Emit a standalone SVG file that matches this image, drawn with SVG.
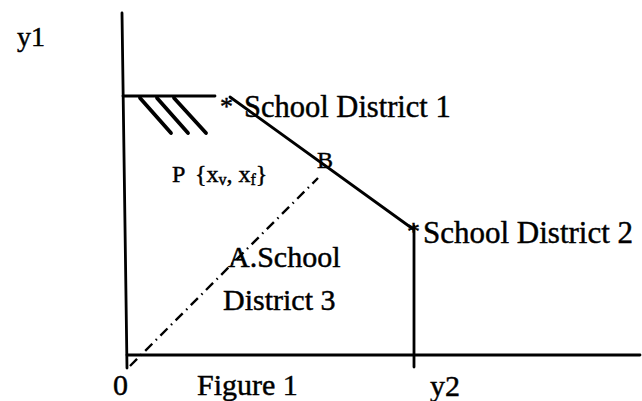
<svg xmlns="http://www.w3.org/2000/svg" width="642" height="401" viewBox="0 0 642 401">
<style>
.ln{stroke:#000;stroke-width:2.8;fill:none;stroke-linecap:round}
.h{stroke:#000;stroke-width:3.8;fill:none;stroke-linecap:round}
.dd{stroke:#000;stroke-width:2.4;fill:none;stroke-dasharray:10 5 1.5 5}
.t{font-family:"Liberation Serif","Times New Roman",serif;fill:#000;stroke:#000;stroke-width:0.45}
</style>
<rect width="642" height="401" fill="#fff"/>
<g id="connectors">
<line class="ln" x1="122" y1="13" x2="127" y2="368"/>
<line class="ln" x1="127" y1="355" x2="640" y2="355"/>
<line class="ln" x1="123" y1="96" x2="215" y2="96"/>
<line class="h" x1="140" y1="98" x2="171" y2="133"/>
<line class="h" x1="157" y1="98" x2="188" y2="133"/>
<line class="h" x1="174" y1="98" x2="206" y2="133"/>
<line class="ln" x1="230" y1="97" x2="413" y2="229"/>
<line class="ln" x1="414" y1="226" x2="414" y2="367"/>
<line class="dd" x1="130" y1="366" x2="318" y2="178"/>
</g>
<g id="axis-labels">
<text class="t" x="17" y="46" font-size="28">y1</text>
<text class="t" x="113" y="395" font-size="30">0</text>
<text class="t" x="197" y="395" font-size="30">Figure 1</text>
<text class="t" x="430" y="396" font-size="30">y2</text>
</g>
<g id="sd1">
<text class="t" x="220" y="115" font-size="26">*</text>
<text class="t" x="244" y="117" font-size="30.5">School District 1</text>
</g>
<g id="sd2">
<text class="t" x="407" y="240" font-size="26">*</text>
<text class="t" x="423" y="243" font-size="31">School District 2</text>
</g>
<g id="p">
<text class="t" x="172" y="182" font-size="24">P <tspan x="195">{x</tspan><tspan font-size="16" dy="3">v</tspan><tspan dy="-3">, x</tspan><tspan font-size="16" dy="3">f</tspan><tspan dy="-3">}</tspan></text>
</g>
<g id="b">
<text class="t" x="317" y="168" font-size="24">B</text>
</g>
<g id="a">
<text class="t" x="228" y="267" font-size="30">A.School</text>
<text class="t" x="223" y="310" font-size="30">District 3</text>
</g>
</svg>
